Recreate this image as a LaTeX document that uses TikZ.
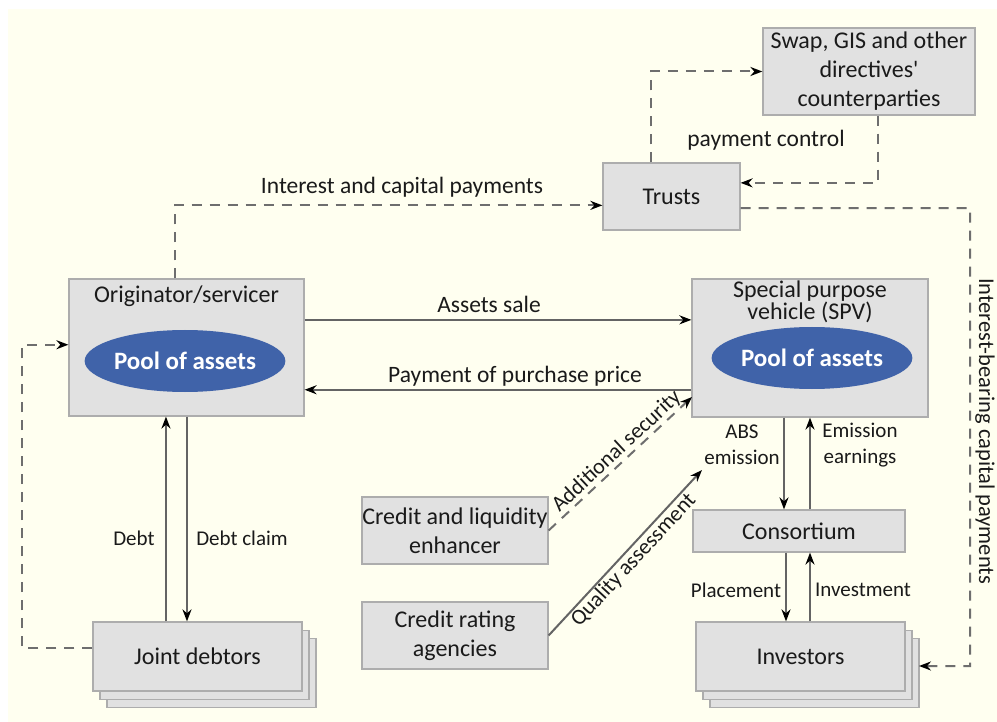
\documentclass[tikz,border=0pt]{standalone}
\usepackage{fontspec}
\setmainfont{Carlito}
\usetikzlibrary{arrows.meta,shapes.geometric,calc}
\definecolor{bg}{HTML}{FFFFF0}
\definecolor{boxfill}{HTML}{E1E1E1}
\definecolor{boxline}{HTML}{ADADAD}
\definecolor{lin}{HTML}{646464}
\definecolor{dsh}{HTML}{6E6E6E}
\definecolor{pool}{HTML}{4063A9}
\definecolor{txt}{HTML}{1A1A1A}
\begin{document}
\begin{tikzpicture}[x=1pt,y=-1pt,
  box/.style={draw=boxline, fill=boxfill, line width=1.2pt, inner sep=0pt, align=center, text=txt,
    font=\fontsize{24}{29}\selectfont},
  lbl/.style={inner sep=1pt, align=center, text=txt, font=\fontsize{23.5}{26}\selectfont},
  slbl/.style={inner sep=1pt, align=center, text=txt, font=\fontsize{21}{26}\selectfont},
  poolnode/.style={ellipse, fill=pool, inner sep=0pt, text=white, font=\fontsize{25}{26}\selectfont\bfseries},
  arr/.style={draw=lin, line width=2pt, -{Stealth[length=12pt,width=9pt,color=black]}},
  darr/.style={draw=dsh, line width=2pt, dash pattern=on 10pt off 8pt, -{Stealth[length=12pt,width=9pt,color=black]}},
]
\useasboundingbox (0,0) rectangle (997,722);
\fill[white] (0,0) rectangle (997,722);
\fill[bg] (8,9) rectangle (997,722);

% boxes
\node[box, minimum width=212, minimum height=87] (swap) at (869,71.5) {Swap, GIS and other\\directives\textquotesingle\\counterparties};
\node[box, minimum width=137, minimum height=67] (trusts) at (671.5,196.5) {Trusts};
\node[box, minimum width=235, minimum height=137] (orig) at (186.5,347.5) {};
\node[lbl, font=\fontsize{24}{26}\selectfont] (origlbl) at (186.5,296) {Originator/servicer};
\node[poolnode, minimum width=166, minimum height=62] (pool1) at (185,361) {Pool of assets};
\node[box, minimum width=236, minimum height=138] (spv) at (810,348) {};
\node[lbl, font=\fontsize{24}{22}\selectfont] (spvlbl) at (810,302) {Special purpose\\vehicle (SPV)};
\node[poolnode, minimum width=160, minimum height=62] (pool2) at (812,358) {Pool of assets};
\node[box, minimum width=186, minimum height=67] (enh) at (455,530.5) {Credit and liquidity\\enhancer};
\node[box, minimum width=186, minimum height=67] (rate) at (455,635.5) {Credit rating\\agencies};
\node[box, minimum width=212, minimum height=42] (cons) at (799,531) {Consortium};
\node[box, minimum width=209, minimum height=69] (inv3) at (814.5,673) {};
\node[box, minimum width=209, minimum height=69] (inv2) at (807.5,665) {};
\node[box, minimum width=209, minimum height=69] (inv) at (800.5,656.5) {Investors};
\node[box, minimum width=209, minimum height=69] (joint3) at (211.5,673) {};
\node[box, minimum width=209, minimum height=69] (joint2) at (204.5,665) {};
\node[box, minimum width=209, minimum height=69] (joint) at (197.5,656.5) {Joint debtors};

% dashed connectors around trusts
\draw[darr] ($(trusts.north west)!0.35!(trusts.north east)$) |- (swap.west);
\draw[darr] ($(swap.south west)!0.54!(swap.south east)$) |- ($(trusts.north east)!0.3!(trusts.south east)$);
\node[lbl] (pc) at (766,140) {payment control};
\coordinate (rc) at (970,208);
\coordinate (invin) at (919,666);
\draw[darr] ($(trusts.north east)!0.67!(trusts.south east)$) -- (rc) |- (invin);
\node[lbl, rotate=-90, font=\fontsize{22.5}{26}\selectfont] (ibcp) at (985,431) {Interest-bearing capital payments};
\draw[darr] ($(orig.north west)!0.45!(orig.north east)$) |- ($(trusts.north west)!0.63!(trusts.south west)$);
\node[lbl] (icp) at (402,187) {Interest and capital payments};

% joint debtors loop
\draw[darr] ($(joint.north west)!0.38!(joint.south west)$) -- ++(-70,0) |- ($(orig.north west)!0.48!(orig.south west)$);

% sale and payment
\coordinate (as) at ($(orig.north east)!0.3!(orig.south east)$);
\draw[arr] (as) -- (as -| spv.west);
\node[lbl] (aslbl) at (489,304) {Assets sale};
\coordinate (pp) at ($(spv.north west)!0.8!(spv.south west)$);
\draw[arr] (pp) -- (pp -| orig.east);
\node[lbl] (pplbl) at (515,376) {Payment of purchase price};

% debt
\coordinate (d1) at ($(joint.north west)!0.35!(joint.north east)$);
\coordinate (d2) at ($(joint.north west)!0.45!(joint.north east)$);
\draw[arr] (d1) -- (d1 |- orig.south);
\draw[arr] (d2 |- orig.south) -- (d2);
\node[slbl] (debt) at (134,538) {Debt};
\node[slbl] (dclaim) at (242,538) {Debt claim};

% enhancer and rating
\coordinate (asend) at (692,397);
\draw[darr] (enh.east) -- node[lbl, font=\fontsize{22}{26}\selectfont, sloped, above=0pt, pos=0.53] {Additional security} (asend);
\coordinate (qaend) at (702,470);
\draw[arr] (rate.east) -- node[lbl, font=\fontsize{22}{26}\selectfont, sloped, below=0pt, pos=0.5] {Quality assessment} (qaend);

% emission
\coordinate (e1) at (784,0);
\coordinate (e2) at (810,0);
\draw[arr] (e1 |- spv.south) -- (e1 |- cons.north);
\draw[arr] (e2 |- cons.north) -- (e2 |- spv.south);
\node[slbl] (abs) at (742,445) {ABS\\emission};
\node[slbl] (eearn) at (860,445) {Emission\\earnings};
\coordinate (p1) at (786,0);
\draw[arr] (p1 |- cons.south) -- (p1 |- inv.north);
\draw[arr] (e2 |- inv.north) -- (e2 |- cons.south);
\node[slbl] (plc) at (736,590) {Placement};
\node[slbl] (invst) at (863,590) {Investment};
\end{tikzpicture}
\end{document}
